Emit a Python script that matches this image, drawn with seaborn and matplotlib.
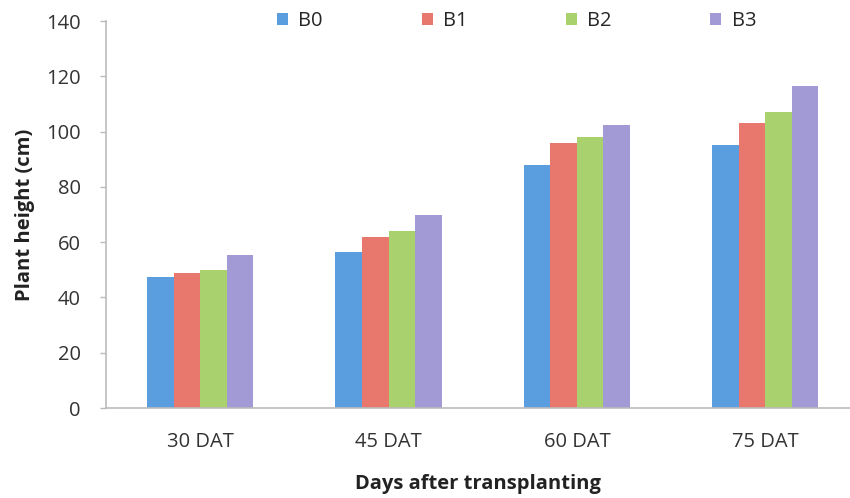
import pandas as pd
import seaborn as sns
import matplotlib.pyplot as plt

# --- data ---
days = ['30 DAT', '45 DAT', '60 DAT', '75 DAT']
treatments = ['B0', 'B1', 'B2', 'B3']
b0 = [47.5, 56.5, 88.0, 95.0]
b1 = [49.0, 62.0, 96.0, 103.0]
b2 = [50.0, 64.0, 98.0, 107.0]
b3 = [55.5, 70.0, 102.5, 116.5]

colors = ['#5A9EE0', '#E8786E', '#A9D26E', '#A29AD4']

df = pd.DataFrame({'day': days * 4,
                   'treatment': sum([[t] * 4 for t in treatments], []),
                   'height': b0 + b1 + b2 + b3})

sns.set_style('white')
plt.rcParams['font.family'] = ['Open Sans', 'DejaVu Sans']

fig = plt.figure(figsize=(8.5, 4.98), dpi=100)
# axes box: x from 106px to figure edge, y from 408px (0) to 21px (140)
ax = fig.add_axes([106 / 850, 1 - 408 / 498, 744 / 850, 387 / 498])

sns.barplot(data=df, x='day', y='height', hue='treatment', order=days,
            hue_order=treatments, palette=colors, width=0.565, gap=0,
            saturation=1, ax=ax, edgecolor='none', linewidth=0)

ax.set_ylim(0, 140)
ax.set_yticks(range(0, 141, 20))
ax.set_xlim(-0.5, 3.45)
ax.tick_params(axis='x', labelsize=14.5, colors='#333333', length=0, pad=17)
ax.tick_params(axis='y', labelsize=14.5, labelcolor='#333333', color='#BBBBBB',
               left=True, length=4, width=1, pad=14)
ax.set_ylabel('Plant height (cm)', fontsize=14.5, fontweight='bold', color='#222222', labelpad=8)
ax.set_xlabel('Days after transplanting', fontsize=14.5, fontweight='bold', color='#222222', labelpad=16)

for s in ['top', 'right']:
    ax.spines[s].set_visible(False)
for s in ['bottom', 'left']:
    ax.spines[s].set_color('#BBBBBB')
    ax.spines[s].set_linewidth(1.2)

ax.legend(loc='center', bbox_to_anchor=(0.552, 1.0), ncol=4, frameon=False,
          fontsize=14.5, handlelength=0.55, handleheight=0.55, columnspacing=4.9,
          handletextpad=0.5)

fig.savefig('out.png', dpi=100)
plt.close(fig)
